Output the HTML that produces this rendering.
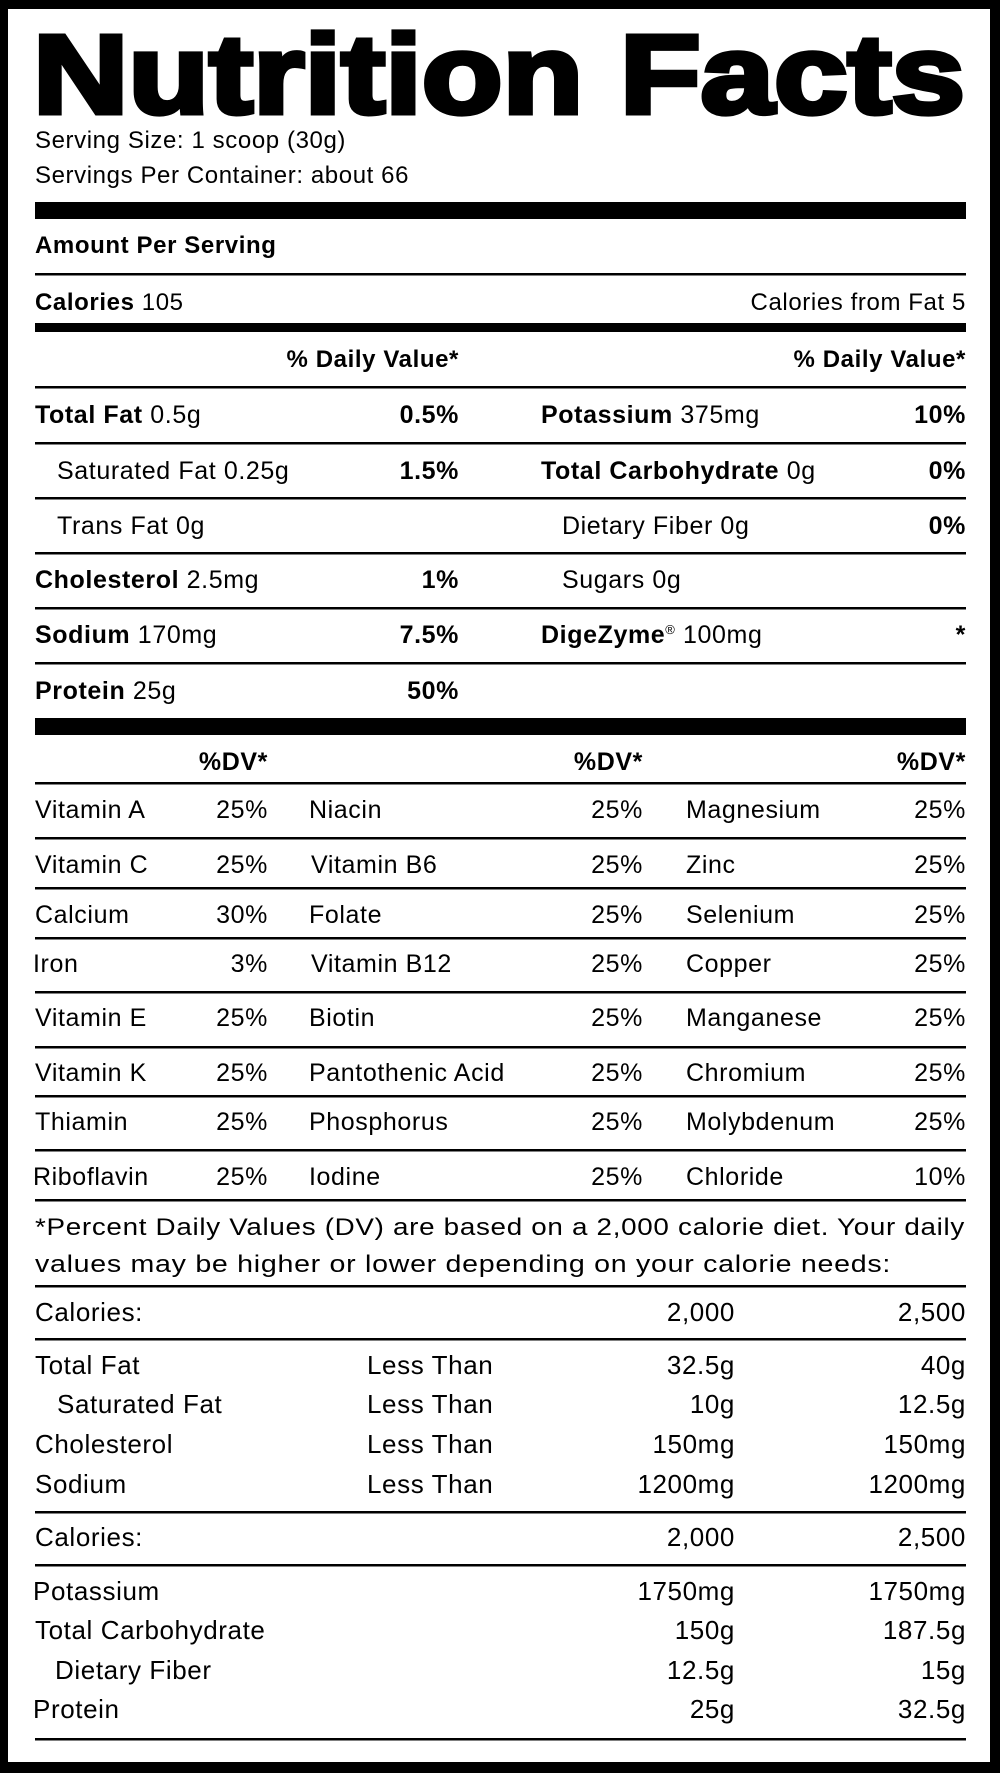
<!DOCTYPE html>
<html><head><meta charset="utf-8"><style>
html,body{margin:0;padding:0;background:#000}
svg{display:block}
text{font-family:"Liberation Sans",Arial,sans-serif;fill:#000;font-size:25px;letter-spacing:0.6px}
.b{font-weight:bold}
.e{text-anchor:end}
</style></head><body>
<svg width="1000" height="1773" viewBox="0 0 1000 1773" xmlns="http://www.w3.org/2000/svg">
<rect x="0" y="0" width="1000" height="1773" fill="#000"/>
<rect x="8" y="9" width="982" height="1753" fill="#fff"/>

<text x="33" y="113" class="b" style="font-size:112px;stroke:#000;stroke-width:5px;letter-spacing:0" textLength="932" lengthAdjust="spacingAndGlyphs">Nutrition Facts</text>
<text x="35" y="148" style="font-size:24px">Serving Size: 1 scoop (30g)</text>
<text x="35" y="183" style="font-size:24px">Servings Per Container: about 66</text>
<rect x="35" y="202" width="931" height="17"/>
<text x="35" y="253" class="b" style="font-size:24px">Amount Per Serving</text>
<rect x="35" y="273" width="931" height="2.5"/>
<text x="35" y="310" style="font-size:24px"><tspan class="b">Calories</tspan> 105</text>
<text x="966" y="310" class="e" style="font-size:24px">Calories from Fat 5</text>
<rect x="35" y="323" width="931" height="9"/>
<text x="459" y="367" class="b e" style="font-size:24px">% Daily Value*</text>
<text x="966" y="367" class="b e" style="font-size:24px">% Daily Value*</text>
<g fill="#000">
<rect x="35" y="386" width="931" height="2.5"/>
<rect x="35" y="442" width="931" height="2.5"/>
<rect x="35" y="497" width="931" height="2.5"/>
<rect x="35" y="552" width="931" height="2.5"/>
<rect x="35" y="607" width="931" height="2.5"/>
<rect x="35" y="662" width="931" height="2.5"/>
</g>
<text x="35" y="423"><tspan class="b">Total Fat</tspan> 0.5g</text><text x="459" y="423" class="b e">0.5%</text>
<text x="541" y="423"><tspan class="b">Potassium</tspan> 375mg</text><text x="966" y="423" class="b e">10%</text>
<text x="57" y="479">Saturated Fat 0.25g</text><text x="459" y="479" class="b e">1.5%</text>
<text x="541" y="479"><tspan class="b">Total Carbohydrate</tspan> 0g</text><text x="966" y="479" class="b e">0%</text>
<text x="57" y="534">Trans Fat 0g</text>
<text x="562" y="534">Dietary Fiber 0g</text><text x="966" y="534" class="b e">0%</text>
<text x="35" y="588"><tspan class="b">Cholesterol</tspan>  2.5mg</text><text x="459" y="588" class="b e">1%</text>
<text x="562" y="588">Sugars 0g</text>
<text x="35" y="643"><tspan class="b">Sodium</tspan> 170mg</text><text x="459" y="643" class="b e">7.5%</text>
<text x="541" y="643"><tspan class="b">DigeZyme</tspan><tspan style="font-size:13px" dy="-9">®</tspan><tspan dy="9"> 100mg</tspan></text><text x="966" y="643" class="b e">*</text>
<text x="35" y="699"><tspan class="b">Protein</tspan> 25g</text><text x="459" y="699" class="b e">50%</text>
<rect x="35" y="718" width="931" height="17"/>

<text x="268" y="770" class="b e">%DV*</text>
<text x="643" y="770" class="b e">%DV*</text>
<text x="966" y="770" class="b e">%DV*</text>
<g fill="#000">
<rect x="35" y="782" width="931" height="2.5"/>
<rect x="35" y="837" width="931" height="2.5"/>
<rect x="35" y="887" width="931" height="2.5"/>
<rect x="35" y="937" width="931" height="2.5"/>
<rect x="35" y="991" width="931" height="2.5"/>
<rect x="35" y="1046" width="931" height="2.5"/>
<rect x="35" y="1095" width="931" height="2.5"/>
<rect x="35" y="1149" width="931" height="2.5"/>
<rect x="35" y="1199" width="931" height="2.5"/>
</g>
<g>
<text x="35" y="818">Vitamin A</text><text x="268" y="818" class="e">25%</text><text x="309" y="818">Niacin</text><text x="643" y="818" class="e">25%</text><text x="686" y="818">Magnesium</text><text x="966" y="818" class="e">25%</text>
<text x="35" y="873">Vitamin C</text><text x="268" y="873" class="e">25%</text><text x="311" y="873">Vitamin B6</text><text x="643" y="873" class="e">25%</text><text x="686" y="873">Zinc</text><text x="966" y="873" class="e">25%</text>
<text x="35" y="923">Calcium</text><text x="268" y="923" class="e">30%</text><text x="309" y="923">Folate</text><text x="643" y="923" class="e">25%</text><text x="686" y="923">Selenium</text><text x="966" y="923" class="e">25%</text>
<text x="33" y="972">Iron</text><text x="268" y="972" class="e">3%</text><text x="311" y="972">Vitamin B12</text><text x="643" y="972" class="e">25%</text><text x="686" y="972">Copper</text><text x="966" y="972" class="e">25%</text>
<text x="35" y="1026">Vitamin E</text><text x="268" y="1026" class="e">25%</text><text x="309" y="1026">Biotin</text><text x="643" y="1026" class="e">25%</text><text x="686" y="1026">Manganese</text><text x="966" y="1026" class="e">25%</text>
<text x="35" y="1081">Vitamin K</text><text x="268" y="1081" class="e">25%</text><text x="309" y="1081">Pantothenic Acid</text><text x="643" y="1081" class="e">25%</text><text x="686" y="1081">Chromium</text><text x="966" y="1081" class="e">25%</text>
<text x="35" y="1130">Thiamin</text><text x="268" y="1130" class="e">25%</text><text x="309" y="1130">Phosphorus</text><text x="643" y="1130" class="e">25%</text><text x="686" y="1130">Molybdenum</text><text x="966" y="1130" class="e">25%</text>
<text x="33" y="1185">Riboflavin</text><text x="268" y="1185" class="e">25%</text><text x="309" y="1185">Iodine</text><text x="643" y="1185" class="e">25%</text><text x="686" y="1185">Chloride</text><text x="966" y="1185" class="e">10%</text>
</g>

<text x="35" y="1235" style="font-size:24px" textLength="930" lengthAdjust="spacingAndGlyphs">*Percent Daily Values (DV) are based on a 2,000 calorie diet. Your daily</text>
<text x="35" y="1272" style="font-size:24px" textLength="856" lengthAdjust="spacingAndGlyphs">values may be higher or lower depending on your calorie needs:</text>
<g fill="#000">
<rect x="35" y="1285" width="931" height="2.5"/>
<rect x="35" y="1338" width="931" height="2.5"/>
<rect x="35" y="1511" width="931" height="2.5"/>
<rect x="35" y="1564" width="931" height="2.5"/>
<rect x="35" y="1738" width="931" height="2.5"/>
</g>
<g>
<text x="35" y="1321" style="font-size:26px">Calories:</text><text x="735" y="1321" class="e" style="font-size:26px">2,000</text><text x="966" y="1321" class="e" style="font-size:26px">2,500</text>
<text x="35" y="1374" style="font-size:26px">Total Fat</text><text x="367" y="1374" style="font-size:26px">Less Than</text><text x="735" y="1374" class="e" style="font-size:26px">32.5g</text><text x="966" y="1374" class="e" style="font-size:26px">40g</text>
<text x="57" y="1413" style="font-size:26px">Saturated Fat</text><text x="367" y="1413" style="font-size:26px">Less Than</text><text x="735" y="1413" class="e" style="font-size:26px">10g</text><text x="966" y="1413" class="e" style="font-size:26px">12.5g</text>
<text x="35" y="1453" style="font-size:26px">Cholesterol</text><text x="367" y="1453" style="font-size:26px">Less Than</text><text x="735" y="1453" class="e" style="font-size:26px">150mg</text><text x="966" y="1453" class="e" style="font-size:26px">150mg</text>
<text x="35" y="1493" style="font-size:26px">Sodium</text><text x="367" y="1493" style="font-size:26px">Less Than</text><text x="735" y="1493" class="e" style="font-size:26px">1200mg</text><text x="966" y="1493" class="e" style="font-size:26px">1200mg</text>
<text x="35" y="1546" style="font-size:26px">Calories:</text><text x="735" y="1546" class="e" style="font-size:26px">2,000</text><text x="966" y="1546" class="e" style="font-size:26px">2,500</text>
<text x="33" y="1600" style="font-size:26px">Potassium</text><text x="735" y="1600" class="e" style="font-size:26px">1750mg</text><text x="966" y="1600" class="e" style="font-size:26px">1750mg</text>
<text x="35" y="1639" style="font-size:26px">Total Carbohydrate</text><text x="735" y="1639" class="e" style="font-size:26px">150g</text><text x="966" y="1639" class="e" style="font-size:26px">187.5g</text>
<text x="55" y="1679" style="font-size:26px">Dietary Fiber</text><text x="735" y="1679" class="e" style="font-size:26px">12.5g</text><text x="966" y="1679" class="e" style="font-size:26px">15g</text>
<text x="33" y="1718" style="font-size:26px">Protein</text><text x="735" y="1718" class="e" style="font-size:26px">25g</text><text x="966" y="1718" class="e" style="font-size:26px">32.5g</text>
</g>
</svg>
</body></html>
